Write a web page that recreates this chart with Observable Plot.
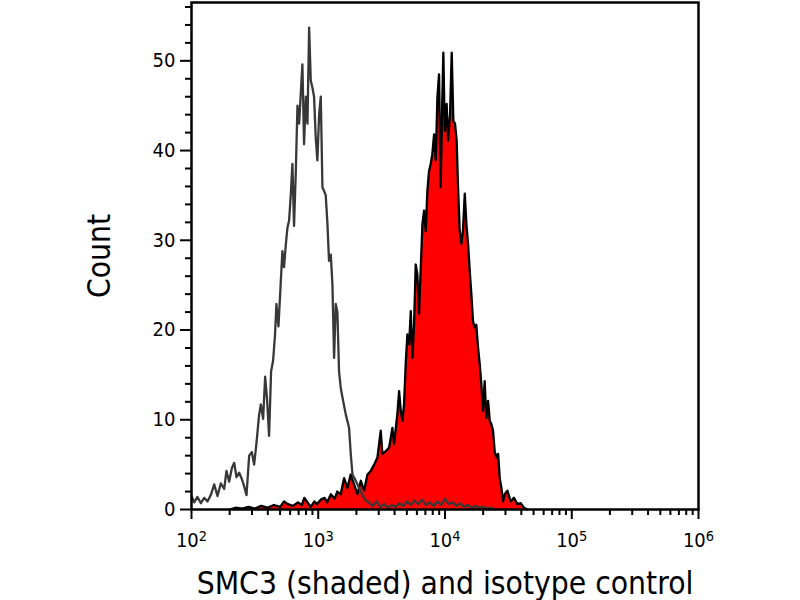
<!DOCTYPE html>
<html><head><meta charset="utf-8">
<script src="https://cdn.jsdelivr.net/npm/d3@7"></script>
<script src="https://cdn.jsdelivr.net/npm/@observablehq/plot@0.6"></script>
<style>html,body{margin:0;padding:0;background:#fff}#chart svg{display:block}</style>
</head><body><div id="chart"></div>
<script>
// Isotype control histogram: position in decades (log10 intensity) and count
const isoDecade = [2.000,2.021,2.047,2.074,2.100,2.126,2.152,2.179,2.205,2.231,2.258,2.276,2.297,2.318,2.337,2.355,2.376,2.397,2.415,2.434,2.455,2.476,2.494,2.512,2.533,2.547,2.565,2.581,2.596,2.612,2.628,2.644,2.659,2.670,2.686,2.702,2.717,2.730,2.744,2.757,2.770,2.783,2.796,2.809,2.823,2.836,2.849,2.862,2.875,2.888,2.902,2.915,2.928,2.941,2.954,2.967,2.980,2.993,3.007,3.020,3.033,3.046,3.059,3.072,3.085,3.099,3.112,3.125,3.138,3.151,3.164,3.177,3.191,3.217,3.243,3.257,3.270,3.296,3.322,3.349,3.375,3.40,3.43,3.46,3.49,3.52,3.55,3.58,3.61,3.64,3.67,3.70,3.73,3.76,3.79,3.82,3.85,3.88,3.91,3.94,3.97,4.00,4.03,4.06,4.09,4.12,4.15,4.18,4.21,4.24,4.27,4.30,4.33,4.36,4.40];
const isoCount = [1.5,0.8,1.4,0.7,1.3,0.9,1.6,2.8,1.5,2.9,2.3,4.3,3.1,4.6,5.2,3.6,4.1,3.4,2.6,1.6,6.0,6.4,5.0,7.3,10.5,11.7,10.1,14.8,12.3,8.2,15.4,16.6,19.5,22.9,20.4,24.7,28.8,27.0,29.5,31.4,32.2,35.0,38.5,31.6,37.7,45.0,43.0,46.3,49.6,40.7,46.0,43.0,53.7,47.8,47.0,46.0,41.5,38.9,44.0,46.0,35.9,35.5,35.0,32.0,27.7,28.4,25.0,16.9,22.9,22.0,15.4,13.6,12.5,10.6,9.1,6.1,3.9,3.2,2.4,1.6,1.0,0.8,0.4,0.9,0.3,0.6,0.2,0.5,0.3,0.7,0.4,0.9,0.5,1.0,0.6,1.1,0.5,0.8,0.4,0.9,0.5,1.2,0.6,0.8,0.4,0.7,0.3,0.5,0.2,0.4,0.2,0.3,0.1,0.2,0];

// SMC3 stained histogram (shaded)
const smcDecade = [2.30,2.35,2.40,2.45,2.50,2.55,2.60,2.65,2.70,2.73,2.76,2.80,2.84,2.87,2.89,2.92,2.94,2.97,2.99,3.02,3.05,3.07,3.10,3.13,3.15,3.177,3.204,3.230,3.256,3.283,3.309,3.336,3.362,3.388,3.414,3.441,3.467,3.493,3.506,3.533,3.559,3.585,3.598,3.624,3.638,3.651,3.664,3.677,3.690,3.703,3.717,3.730,3.743,3.756,3.769,3.782,3.795,3.808,3.822,3.835,3.848,3.861,3.874,3.887,3.900,3.914,3.927,3.940,3.953,3.966,3.979,3.987,3.998,4.013,4.024,4.040,4.053,4.066,4.079,4.092,4.103,4.116,4.129,4.142,4.156,4.169,4.182,4.195,4.208,4.221,4.234,4.247,4.261,4.274,4.287,4.300,4.313,4.326,4.340,4.353,4.366,4.379,4.392,4.405,4.419,4.432,4.445,4.458,4.471,4.492,4.518,4.544,4.571,4.597,4.623,4.650];
const smcCount = [0,0.2,0.1,0.3,0.1,0.4,0.2,0.5,0.3,0.9,0.6,0.4,0.8,0.5,1.3,0.7,0.3,0.9,0.6,1.1,1.3,0.8,1.7,1.2,2.0,1.7,3.5,2.4,3.9,2.8,1.7,3.2,2.1,3.9,4.3,5.0,5.8,8.8,6.2,6.5,6.9,9.1,7.3,10.6,13.2,11.0,9.9,11.7,16.2,19.5,18.4,22.1,16.9,20.6,27.3,26.2,21.8,26.6,31.8,33.3,31.0,35.5,37.7,38.5,39.6,41.8,38.9,45.9,48.5,35.9,45.9,50.9,42.2,45.2,41.1,44.1,50.9,43.3,43.0,41.1,35.9,31.1,29.6,31.1,35.2,31.8,29.6,26.6,24.0,21.0,20.3,20.6,18.0,16.2,13.9,11.0,14.3,10.2,12.1,9.9,9.5,8.8,6.5,5.8,6.2,3.5,2.4,0.9,1.7,2.1,0.9,1.3,0.6,0.7,0.2,0];

const yMajorTicks = [0,10,20,30,40,50];
const yMinorTicks = [2,4,6,8,12,14,16,18,22,24,26,28,32,34,36,38,42,44,46,48,52,54,56];
const xMajorTicks = [1e2,1e3,1e4,1e5,1e6];
const xMajorLabels = ["10^2","10^3","10^4","10^5","10^6"];
const xMinorTicks = [200,300,400,500,600,700,800,900,2000,3000,4000,5000,6000,7000,8000,9000,20000,30000,40000,50000,60000,70000,80000,90000,200000,300000,400000,500000,600000,700000,800000,900000];
const xTitle = "SMC3 (shaded) and isotype control";
const yTitle = "Count";

const n1 = Math.min(isoDecade.length, isoCount.length);
const iso = isoDecade.slice(0, n1).map((d, i) => ({x: 10 ** d, y: isoCount[i]}));
const n2 = Math.min(smcDecade.length, smcCount.length);
const smc = smcDecade.slice(0, n2).map((d, i) => ({x: 10 ** d, y: smcCount[i]}));
const xLab = xMajorTicks.map((v, i) => ({v, label: xMajorLabels[i]}));

const font = "'DejaVu Sans Condensed','DejaVu Sans',sans-serif";
const chart = Plot.plot({
  width: 800, height: 600,
  marginLeft: 191, marginRight: 102, marginTop: 2, marginBottom: 91,
  style: {fontFamily: font, fontStretch: "condensed", background: "#fff", color: "#000", overflow: "visible"},
  x: {type: "log", domain: [100, 1e6], axis: null},
  y: {domain: [0, 56.5], axis: null},
  marks: [
    Plot.areaY(smc, {x: "x", y: "y", fill: "#ff0000"}),
    Plot.lineY(smc, {x: "x", y: "y", stroke: "#000", strokeWidth: 2.3}),
    Plot.lineY(iso, {x: "x", y: "y", stroke: "#383838", strokeWidth: 2.3}),
    Plot.frame({stroke: "#000", strokeWidth: 2.5}),
    Plot.axisY(yMajorTicks, {tickSize: 11, strokeWidth: 2, tickFormat: () => "", label: null}),
    Plot.axisY(yMinorTicks, {tickSize: 6, strokeWidth: 2, tickFormat: () => "", label: null}),
    Plot.axisX(xMajorTicks, {tickSize: 10, strokeWidth: 2, tickFormat: () => "", label: null}),
    Plot.axisX(xMinorTicks, {tickSize: 6, strokeWidth: 2, tickFormat: () => "", label: null}),
    Plot.text(yMajorTicks, {y: d => d, text: d => String(d), frameAnchor: "left", textAnchor: "end", dx: -16, fontSize: 20, fill: "#000"}),
    Plot.text(xLab, {x: "v", text: "label", frameAnchor: "bottom", textAnchor: "middle", lineAnchor: "bottom", dy: 37.5, fontSize: 20, fill: "#000"}),
    Plot.text([xTitle], {frameAnchor: "bottom", textAnchor: "middle", lineAnchor: "bottom", dy: 84, fontSize: 31.5, fill: "#000"}),
    Plot.text([yTitle], {frameAnchor: "left", textAnchor: "middle", dx: -92, rotate: -90, fontSize: 31.5, fill: "#000"})
  ]
});

// tick labels at 20px; exponents as superscripts
d3.select(chart).selectAll("text").each(function () {
  const t = this.textContent;
  const sel = d3.select(this);
  if (/^\d+$/.test(t)) sel.style("font-size", "20px");
  if (t && t.indexOf("^") > 0) {
    const [b, e] = t.split("^");
    sel.style("font-size", "20px").text(null);
    sel.append("tspan").text(b);
    sel.append("tspan").attr("dy", "-0.42em").style("font-size", "14.5px").text(e);
  }
});
document.getElementById("chart").appendChild(chart);
</script>
</body></html>
